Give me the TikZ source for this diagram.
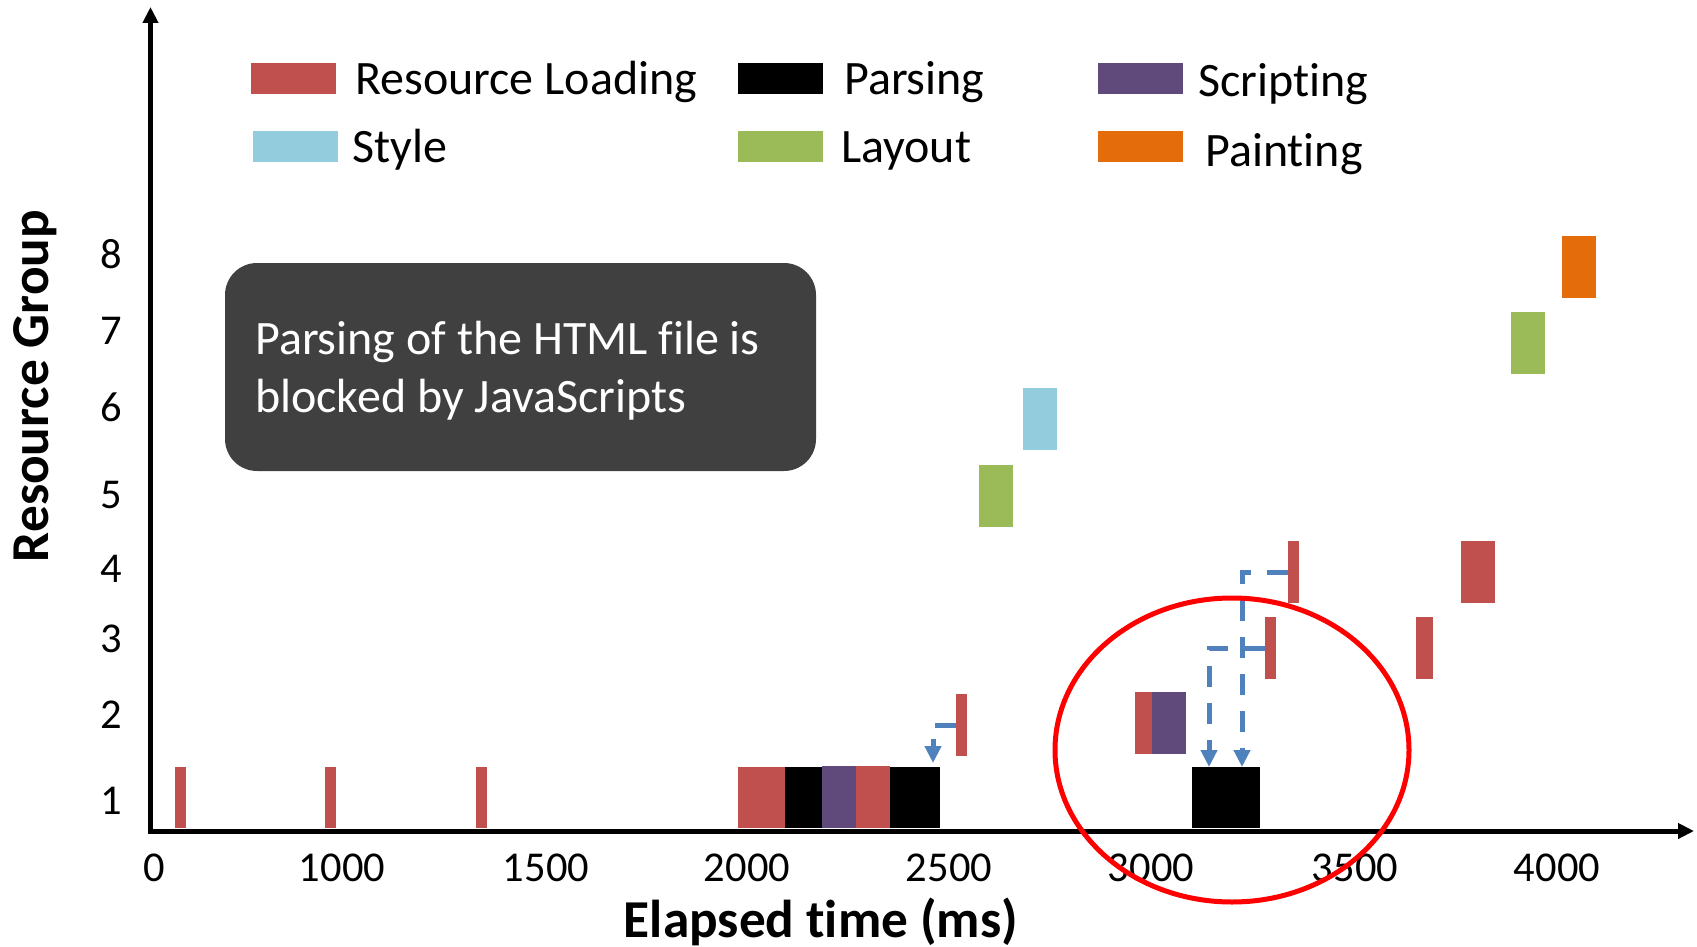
\documentclass[tikz,border=0pt]{standalone}
\usepackage{fontspec}
\setmainfont{Carlito}[Ligatures={NoCommon}]
\usetikzlibrary{arrows.meta,shapes.geometric}

\definecolor{loadc}{HTML}{C0504D}
\definecolor{scriptc}{HTML}{604A7B}
\definecolor{stylec}{HTML}{93CDDD}
\definecolor{layoutc}{HTML}{9BBB59}
\definecolor{paintc}{HTML}{E46C0A}
\definecolor{notec}{HTML}{404040}
\definecolor{depc}{HTML}{4F81BD}

% \taskbar{name}{colour}{x-left}{x-right}{y-top}{y-bottom}
\newcommand\taskbar[6]{%
  \node[taskbox, fill=#2, minimum width={#4pt-#3pt}, minimum height={#6pt-#5pt},
        anchor=north west] (#1) at (#3,#5) {};}

\begin{document}
\begin{tikzpicture}[x=1pt, y=-1pt,
  taskbox/.style={inner sep=0pt, outer sep=0pt, draw=none},
  axisline/.style={line width=5pt, -{Triangle[length=16pt,width=15pt]}},
  dep/.style={depc, line width=5pt, dash pattern=on 21pt off 16pt,
              -{Triangle[length=17pt,width=16pt]}},
  legtext/.style={anchor=base west, inner sep=0pt, font=\fontsize{48}{57}\selectfont},
  ticklbl/.style={anchor=base, inner sep=0pt, font=\fontsize{42.5}{50}\selectfont},
  ylbl/.style={anchor=center, inner sep=0pt, font=\fontsize{42.5}{50}\selectfont},
  axtitle/.style={anchor=base, inner sep=0pt, font=\fontsize{53.3}{64}\selectfont\bfseries},
  callout/.style={fill=notec, text=white, rounded corners=32pt, inner xsep=30pt,
                  inner ysep=0pt, align=flush left, font=\fontsize{48}{58}\selectfont},
  focusring/.style={draw=red, line width=5pt, ellipse, inner sep=0pt}
]
\useasboundingbox (0,0) rectangle (1697,947);

% axes
\coordinate (origin) at (150.5,831);
\coordinate (ytip) at (150.5,7);
\coordinate (xstart) at (148,831);
\coordinate (xtip) at (1694,831);
\draw[axisline] ([yshift=-2.5pt]origin) -- (ytip);
\draw[axisline] (xstart) -- (xtip);

% legend
\taskbar{lgload}{loadc}{251}{336}{63}{94}
\taskbar{lgparse}{black}{738}{823}{63}{94}
\taskbar{lgscript}{scriptc}{1098}{1183}{63}{94}
\taskbar{lgstyle}{stylec}{253}{338}{131}{162}
\taskbar{lglayout}{layoutc}{738}{823}{131}{162}
\taskbar{lgpaint}{paintc}{1098}{1183}{131}{162}
\node[legtext] (tload) at (355,95) {Resource Loading};
\node[legtext] (tparse) at (844,95) {Parsing};
\node[legtext] (tscript) at (1198,97) {Scripting};
\node[legtext] (tstyle) at (352,162) {Style};
\node[legtext] (tlayout) at (841,162) {Layout};
\node[legtext] (tpaint) at (1205,166) {Painting};

% tick labels
\node[ticklbl] (x0) at (154,881) {0};
\node[ticklbl] (x1) at (342,881) {1000};
\node[ticklbl] (x2) at (546,881) {1500};
\node[ticklbl] (x3) at (747,881) {2000};
\node[ticklbl] (x4) at (949,881) {2500};
\node[ticklbl] (x5) at (1151,881) {3000};
\node[ticklbl] (x6) at (1355,881) {3500};
\node[ticklbl] (x7) at (1557,881) {4000};
\node[ylbl] (lbl8) at (111,254) {8};
\node[ylbl] (lbl7) at (111,331) {7};
\node[ylbl] (lbl6) at (111,407) {6};
\node[ylbl] (lbl5) at (111,495) {5};
\node[ylbl] (lbl4) at (111,569) {4};
\node[ylbl] (lbl3) at (111,639) {3};
\node[ylbl] (lbl2) at (111,715) {2};
\node[ylbl] (lbl1) at (111,801) {1};

% axis titles
\node[axtitle] (xtitle) at (821,937) {Elapsed time (ms)};
\node[axtitle, rotate=90] (ytitle) at (48,386) {Resource Group};

% note
\node[callout, text width=531pt, minimum height=208pt] (note) at (520.5,367) {};
\node[callout, fill=none, text width=531pt, anchor=north west] (notetext) at (225,321)
  {Parsing of the HTML file is\\blocked by JavaScripts};

% group 1
\taskbar{a1}{loadc}{175}{186}{767}{828}
\taskbar{a2}{loadc}{325}{336}{767}{828}
\taskbar{a3}{loadc}{476}{487}{767}{828}
\taskbar{a4}{loadc}{738}{785}{767}{828}
\taskbar{p1}{black}{785}{822}{767}{828}
\taskbar{s1}{scriptc}{822}{856}{766}{828}
\taskbar{a5}{loadc}{856}{890}{766}{828}
\taskbar{p2}{black}{890}{940}{767}{828}
\taskbar{p3}{black}{1192}{1260}{767}{828}
% group 2
\taskbar{b1}{loadc}{956}{967}{694}{756}
\taskbar{b2}{loadc}{1135}{1152}{692}{754}
\taskbar{s2}{scriptc}{1152}{1186}{692}{754}
% group 3
\taskbar{c1}{loadc}{1265}{1276}{617}{679}
\taskbar{c2}{loadc}{1416}{1433}{617}{679}
% group 4
\taskbar{d1}{loadc}{1288}{1299}{541}{603}
\taskbar{d2}{loadc}{1461}{1495}{541}{603}
% groups 5-8
\taskbar{e1}{layoutc}{979}{1013}{465}{527}
\taskbar{f1}{stylec}{1023}{1057}{388}{450}
\taskbar{g1}{layoutc}{1511}{1545}{312}{374}
\taskbar{h1}{paintc}{1562}{1596}{236}{298}

% dependencies
\draw[dep] (d1.west) -| ([xshift=16pt]p3.north);
\draw[dep] (c1.west) -| ([xshift=-17pt]p3.north);
\draw[dep, shorten >=4pt] (b1.west) -| ([xshift=18pt]p2.north);

% highlight
\node[focusring, minimum width=354pt, minimum height=304pt] (focus) at (1232,750) {};
\end{tikzpicture}
\end{document}
